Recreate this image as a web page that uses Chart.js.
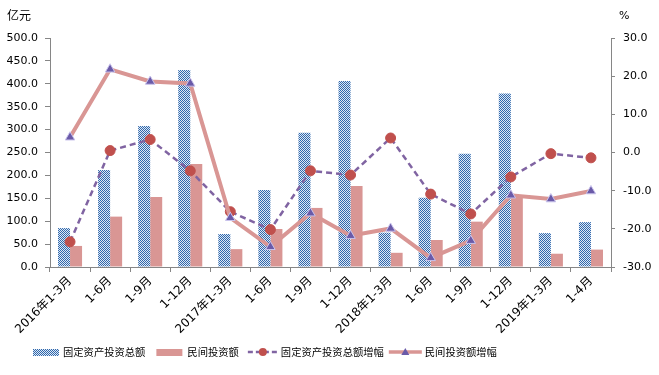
<!DOCTYPE html>
<html>
<head>
<meta charset="utf-8">
<script src="https://cdn.jsdelivr.net/npm/chart.js@4/dist/chart.umd.min.js"></script>
<style>
html,body{margin:0;padding:0;background:#fff;}
#wrap{width:659px;height:375px;}
</style>
</head>
<body>
<div id="wrap"><canvas id="c" width="659" height="375"></canvas></div>
<script>
const categories = ['2016年1-3月','1-6月','1-9月','1-12月','2017年1-3月','1-6月','1-9月','1-12月','2018年1-3月','1-6月','1-9月','1-12月','2019年1-3月','1-4月'];
const fixedInvest = [85, 212, 308, 430, 72, 168, 293, 406, 75, 151, 247, 379, 74, 98];
const privateInvest = [46, 110, 153, 225, 39, 83, 129, 177, 31, 59, 99, 157, 29, 38];
const fixedGrowth = [-23.4, 0.5, 3.4, -4.8, -15.5, -20.2, -4.8, -5.9, 3.8, -10.9, -16.1, -6.4, -0.3, -1.4];
const privateGrowth = [4.0, 21.8, 18.6, 18.1, -17.1, -24.7, -15.9, -21.8, -19.9, -27.6, -23.1, -11.2, -12.2, -10.1];
const seriesNames = ['固定资产投资总额','民间投资额','固定资产投资总额增幅','民间投资额增幅'];

const FONT = "'DejaVu Sans','Noto Sans CJK SC',sans-serif";
const CJK = "'Noto Sans CJK SC','DejaVu Sans',sans-serif";

const ctx = document.getElementById('c').getContext('2d');
const pc = document.createElement('canvas');
pc.width = 2; pc.height = 2;
const pctx = pc.getContext('2d');
pctx.fillStyle = '#dfe8f4'; pctx.fillRect(0,0,2,2);
pctx.fillStyle = '#2f68ad'; pctx.fillRect(0,0,1,1); pctx.fillRect(1,1,1,1);
const bluePattern = ctx.createPattern(pc, 'repeat');

const PINK = '#d99694';
const PURPLE = '#8064a2';
const RED = '#c0504d';
const TRI = '#6a5aa8';
const AXIS = '#868686';

const extras = {
  id: 'extras',
  afterDraw(chart) {
    const c = chart.ctx;
    c.save();
    c.fillStyle = '#000';
    c.textBaseline = 'middle';
    c.font = '12px ' + CJK;
    c.textAlign = 'left';
    c.fillText('亿元', 7, 15);
    c.font = '11px ' + FONT;
    c.fillText('%', 619, 16);

    // legend
    const y = 352;
    c.font = '10.3px ' + CJK;
    let x = 33;
    c.fillStyle = bluePattern;
    c.fillRect(x, y - 3, 26, 7);
    x += 30;
    c.fillStyle = '#000';
    c.fillText(seriesNames[0], x, y);
    x += c.measureText(seriesNames[0]).width + 11;
    c.fillStyle = PINK;
    c.fillRect(x, y - 3, 26, 7);
    x += 31;
    c.fillStyle = '#000';
    c.fillText(seriesNames[1], x, y);
    x += c.measureText(seriesNames[1]).width + 9;
    c.strokeStyle = PURPLE;
    c.lineWidth = 2.5;
    c.setLineDash([5, 3]);
    c.beginPath(); c.moveTo(x, y); c.lineTo(x + 30, y); c.stroke();
    c.setLineDash([]);
    c.fillStyle = RED;
    c.beginPath(); c.arc(x + 15, y, 4, 0, Math.PI * 2); c.fill();
    x += 33;
    c.fillStyle = '#000';
    c.fillText(seriesNames[2], x, y);
    x += c.measureText(seriesNames[2]).width + 5;
    c.strokeStyle = PINK;
    c.lineWidth = 3.5;
    c.beginPath(); c.moveTo(x, y); c.lineTo(x + 33, y); c.stroke();
    c.fillStyle = TRI;
    c.beginPath(); c.moveTo(x + 16.5, y - 4); c.lineTo(x + 20.5, y + 3); c.lineTo(x + 12.5, y + 3); c.closePath(); c.fill();
    x += 36;
    c.fillStyle = '#000';
    c.fillText(seriesNames[3], x, y);
    c.restore();
  }
};

new Chart(ctx, {
  data: {
    labels: categories,
    datasets: [
      { type: 'bar', label: seriesNames[0], data: fixedInvest, yAxisID: 'y', backgroundColor: bluePattern, borderWidth: 0, order: 2, categoryPercentage: 0.6, barPercentage: 1.0 },
      { type: 'bar', label: seriesNames[1], data: privateInvest, yAxisID: 'y', backgroundColor: PINK, borderWidth: 0, order: 3, categoryPercentage: 0.6, barPercentage: 1.0 },
      { type: 'line', label: seriesNames[2], data: fixedGrowth, yAxisID: 'y1', borderColor: PURPLE, borderWidth: 2.5, borderDash: [6, 4], tension: 0, fill: false,
        pointRadius: 5, pointBackgroundColor: RED, pointBorderColor: RED, pointBorderWidth: 1, order: 1 },
      { type: 'line', label: seriesNames[3], data: privateGrowth, yAxisID: 'y1', borderColor: PINK, borderWidth: 4, tension: 0, fill: false,
        pointStyle: 'triangle', pointRadius: 5.5, pointBackgroundColor: TRI, pointBorderColor: '#c9c3ec', pointBorderWidth: 1, order: 0 }
    ]
  },
  options: {
    responsive: false,
    animation: false,
    devicePixelRatio: 1,
    layout: { padding: { top: 38, left: 0, right: 0, bottom: 0 } },
    plugins: { legend: { display: false }, tooltip: { enabled: false }, title: { display: false } },
    scales: {
      x: {
        offset: true,
        grid: { offset: true, drawOnChartArea: false, tickLength: 5, color: AXIS },
        border: { color: AXIS },
        ticks: { minRotation: 45, maxRotation: 45, autoSkip: false, padding: 2, color: '#000', font: { size: 12, family: FONT } },
        afterFit(s) { s.height = 108; }
      },
      y: {
        position: 'left', min: 0, max: 500,
        grid: { drawOnChartArea: false, tickLength: 5, color: AXIS },
        border: { color: AXIS },
        ticks: { stepSize: 50, padding: 7, color: '#000', font: { size: 11, family: FONT }, callback: v => v.toFixed(1) },
        afterFit(s) { s.width = 50; }
      },
      y1: {
        position: 'right', min: -30, max: 30,
        grid: { drawOnChartArea: false, tickLength: 4, color: AXIS },
        border: { color: AXIS },
        ticks: { stepSize: 10, padding: 8, color: '#000', font: { size: 11, family: FONT }, callback: v => v.toFixed(1) },
        afterFit(s) { s.width = 48; }
      }
    }
  },
  plugins: [extras]
});
</script>
</body>
</html>
